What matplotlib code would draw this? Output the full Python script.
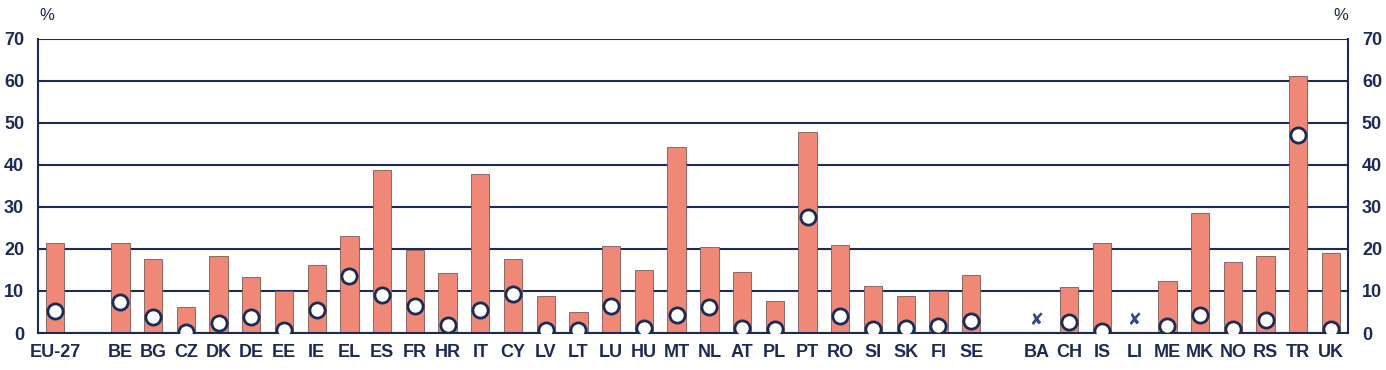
import numpy as np
import matplotlib.pyplot as plt

# Countries (empty strings are gaps between groups)
countries = ["EU-27", "",
             "BE", "BG", "CZ", "DK", "DE", "EE", "IE", "EL", "ES", "FR", "HR", "IT", "CY",
             "LV", "LT", "LU", "HU", "MT", "NL", "AT", "PL", "PT", "RO", "SI", "SK", "FI", "SE",
             "",
             "BA", "CH", "IS", "LI", "ME", "MK", "NO", "RS", "TR", "UK"]

# bar values (%), None = not available
bars = [21.5, None,
        21.4, 17.6, 6.3, 18.4, 13.4, 10.0, 16.3, 23.2, 38.7, 19.7, 14.4, 37.9, 17.6,
        8.9, 5.1, 20.6, 15.1, 44.4, 20.5, 14.5, 7.5, 47.9, 21.0, 11.3, 8.7, 10.0, 13.9,
        None,
        None, 11.0, 21.4, None, 12.3, 28.5, 16.8, 18.4, 61.2, 19.0]

# circle values (%)
dots = [5.3, None,
        7.3, 3.9, 0.3, 2.4, 3.9, 0.6, 5.5, 13.5, 9.1, 6.4, 1.9, 5.5, 9.2,
        0.7, 0.7, 6.4, 1.3, 4.4, 6.3, 1.3, 1.0, 27.6, 4.1, 1.0, 1.1, 1.7, 2.9,
        None,
        None, 2.5, 0.5, None, 1.7, 4.4, 1.0, 3.0, 47.1, 1.0]

# not available markers
na_countries = ["BA", "LI"]
na_level = 3.2

navy = "#1c2b55"
bar_col = "#f08878"

plt.rcParams["font.family"] = ["Liberation Sans", "DejaVu Sans"]

x = np.arange(len(countries))

fig = plt.figure(figsize=(13.86, 3.70), dpi=100)
ax = fig.add_axes([0.0274, 0.1, 0.9452, 0.7946])

bx = [i for i, v in enumerate(bars) if v is not None]
bv = [v for v in bars if v is not None]
ax.bar(bx, bv, width=0.56, color=bar_col, edgecolor="#7a5a55", linewidth=0.6, zorder=2)

dx = [i for i, v in enumerate(dots) if v is not None]
dv = [v for v in dots if v is not None]
ax.scatter(dx, dv, s=120, facecolor="white", edgecolor=navy, linewidth=2, zorder=3)

for c in na_countries:
    ax.text(countries.index(c), na_level, "\u2718", ha="center", va="center",
            color="#2e4a8c", fontsize=12, family="DejaVu Sans", zorder=3)

ax.set_xlim(-0.52, len(countries) - 0.48)
ax.set_ylim(0, 70)
ax.set_yticks(np.arange(0, 71, 10))
ax.yaxis.grid(True, color=navy, linewidth=1.5, zorder=1)
ax.set_axisbelow(True)
ax.set_xticks(x)
ax.set_xticklabels(countries)
ax.tick_params(axis="both", length=0, labelsize=13, labelcolor=navy)
ax.tick_params(axis="x", pad=8)
ax.tick_params(axis="y", pad=10, labelright=True, right=False)
for lab in ax.get_xticklabels() + ax.get_yticklabels():
    lab.set_fontweight("bold")
for lab in ax.yaxis.get_majorticklabels():
    lab.set_fontweight("bold")
for s in ["left", "right", "bottom"]:
    ax.spines[s].set_color(navy)
    ax.spines[s].set_linewidth(1.5)
ax.spines["top"].set_visible(False)

fig.text(47 / 1386, 1 - 15 / 370, "%", ha="center", va="center", fontsize=12, color=navy)
fig.text(1341 / 1386, 1 - 15 / 370, "%", ha="center", va="center", fontsize=12, color=navy)

fig.savefig("out.png", dpi=100)
